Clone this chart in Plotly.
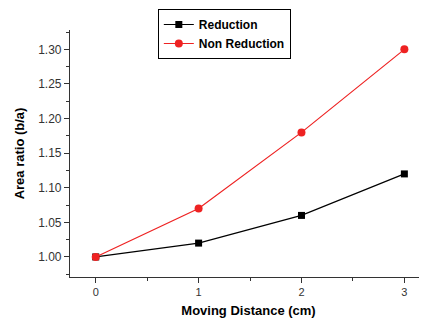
import plotly.graph_objects as go

distance = [0, 1, 2, 3]
reduction = [1.00, 1.02, 1.06, 1.12]
non_reduction = [1.00, 1.07, 1.18, 1.30]
x_ticks = [0, 1, 2, 3]
y_ticks = [1.00, 1.05, 1.10, 1.15, 1.20, 1.25, 1.30]

fig = go.Figure()
fig.add_trace(go.Scatter(x=distance, y=reduction, mode="lines+markers", name="Reduction",
                         line=dict(color="black", width=1.2),
                         marker=dict(symbol="square", size=7, color="black")))
fig.add_trace(go.Scatter(x=distance, y=non_reduction, mode="lines+markers", name="Non Reduction",
                         line=dict(color="#ee2222", width=1.2),
                         marker=dict(symbol="circle", size=8, color="#ee2222")))

font = "Liberation Sans, Arial, sans-serif"
# page body has an ~8px default margin; margins compensate for it
fig.update_layout(
    width=427, height=320,
    margin=dict(l=62, r=8, t=22, b=51, autoexpand=False),
    paper_bgcolor="white", plot_bgcolor="white",
    font=dict(family=font, color="#222"),
    legend=dict(x=0.246, y=1.085, xanchor="left", yanchor="top",
                bordercolor="black", borderwidth=1, bgcolor="white",
                font=dict(family=font, size=12, color="black", weight="bold"),
                tracegroupgap=0, itemwidth=30),
    xaxis=dict(range=[-0.25, 3.22], tickvals=x_ticks, showgrid=False, zeroline=False,
               automargin=False,
               showline=True, linecolor="#333", linewidth=1.2,
               ticks="outside", ticklen=5, tickcolor="#333",
               minor=dict(dtick=0.5, tick0=0, ticks="outside", ticklen=3, tickcolor="#333"),
               tickfont=dict(size=11, color="#333"),
               title=dict(text="Moving Distance (cm)", font=dict(size=13, color="black", weight="bold"), standoff=8)),
    yaxis=dict(range=[0.971, 1.328], tickvals=y_ticks, tickformat=".2f", showgrid=False, zeroline=False,
               automargin=False,
               showline=True, linecolor="#333", linewidth=1.2,
               ticks="outside", ticklen=5, tickcolor="#333",
               minor=dict(dtick=0.025, tick0=1.0, ticks="outside", ticklen=3, tickcolor="#333"),
               tickfont=dict(size=12, color="#333"),
               title=dict(text="Area ratio (b/a)", font=dict(size=13, color="black", weight="bold"), standoff=10)),
)
fig.write_html("out.html")
